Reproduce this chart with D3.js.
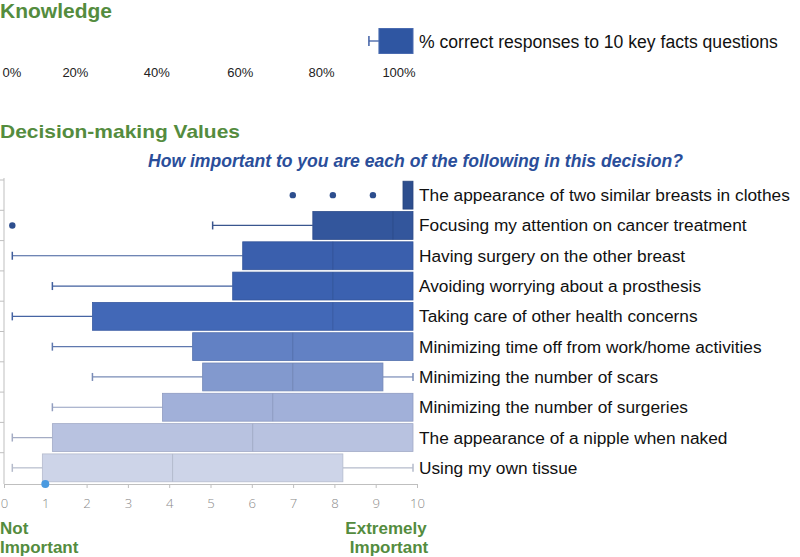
<!DOCTYPE html>
<html><head><meta charset="utf-8">
<script src="https://cdn.jsdelivr.net/npm/d3@7"></script>
<style>body{margin:0;background:#fff}svg{display:block}</style>
</head><body>
<svg id="c" width="800" height="557"></svg>
<script>
// ---- data ----
const categories = [
  "The appearance of two similar breasts in clothes",
  "Focusing my attention on cancer treatment",
  "Having surgery on the other breast",
  "Avoiding worrying about a prosthesis",
  "Taking care of other health concerns",
  "Minimizing time off from work/home activities",
  "Minimizing the number of scars",
  "Minimizing the number of surgeries",
  "The appearance of a nipple when naked",
  "Using my own tissue"
];
const whiskerLow = [9.75, 5, 0, 1, 0, 1, 2, 1, 0, 0];
const q1Values   = [9.75, 7.5, 5.75, 5.5, 2, 4.5, 4.75, 3.75, 1, 0.75];
const medians    = [10, 9.5, 8, 8, 8, 7, 7, 6.5, 6, 4];
const q3Values   = [10, 10, 10, 10, 10, 10, 9.25, 10, 10, 8.25];
const whiskerHigh= [10, 10, 10, 10, 10, 10, 10, 10, 10, 10];
const outliers   = [[7, 8, 9], [0], [], [], [], [], [], [], [], []];
const fills = ["#2D4E8E","#33569C","#3A5FAD","#3B61B0","#4268B7","#6281C4","#8299CE","#A1B0D9","#B8C2E0","#CDD4E8"];
const axisTicks = [0,1,2,3,4,5,6,7,8,9,10];
const markerValue = 1;

const knowledgeLabels = ["0%","20%","40%","60%","80%","100%"];
const knowledgeTickVals = [0,20,40,60,80,100];
const knowledgeBox = {low: 89, q1: 91.5, high: 100};
const knowledgeLegend = "% correct responses to 10 key facts questions";

// ---- drawing ----
const svg = d3.select("#c");
const green = "#548C3E";
const font = "'Liberation Sans', Arial, sans-serif";

// Knowledge section
svg.append("text").attr("x",0).attr("y",18).attr("font-family",font).attr("font-weight","bold")
  .attr("font-size",21).attr("fill",green).attr("textLength",112).attr("lengthAdjust","spacingAndGlyphs").text("Knowledge");

const kLabelScale = d3.scaleLinear().domain([0,100]).range([12,399]);
svg.append("g").selectAll("text").data(knowledgeTickVals).join("text")
  .attr("x",(d,i)=>kLabelScale(d) + (i===1?-14:i===2?-10:i===3?-4:0))
  .attr("y",77).attr("text-anchor","middle").attr("font-family",font).attr("font-size",13).attr("fill","#222")
  .text((d,i)=>knowledgeLabels[i]);

const kBoxScale = d3.scaleLinear().domain([0,100]).range([12.3,413]);
const kg = svg.append("g");
kg.append("line").attr("x1",kBoxScale(knowledgeBox.low)).attr("x2",kBoxScale(knowledgeBox.q1))
  .attr("y1",41).attr("y2",41).attr("stroke","#3F5FA5").attr("stroke-width",1.3);
kg.append("line").attr("x1",kBoxScale(knowledgeBox.low)).attr("x2",kBoxScale(knowledgeBox.low))
  .attr("y1",36).attr("y2",46).attr("stroke","#3F5FA5").attr("stroke-width",1.5);
kg.append("rect").attr("x",kBoxScale(knowledgeBox.q1)).attr("y",28.5)
  .attr("width",kBoxScale(knowledgeBox.high)-kBoxScale(knowledgeBox.q1)).attr("height",25)
  .attr("fill","#2F56A2").attr("stroke","#4A6BB0").attr("stroke-width",1);
svg.append("text").attr("x",419).attr("y",48).attr("font-family",font).attr("font-size",17.6).attr("fill","#111")
  .text(knowledgeLegend);

// Decision section titles
svg.append("text").attr("x",0).attr("y",138).attr("font-family",font).attr("font-weight","bold")
  .attr("font-size",19).attr("fill",green).attr("textLength",240).attr("lengthAdjust","spacingAndGlyphs").text("Decision-making Values");
svg.append("text").attr("x",148).attr("y",167).attr("font-family",font).attr("font-weight","bold").attr("font-style","italic")
  .attr("font-size",18.5).attr("fill","#2A4E9A").attr("textLength",535).attr("lengthAdjust","spacingAndGlyphs")
  .text("How important to you are each of the following in this decision?");

const y = d3.scaleBand().domain(categories).range([180,483]).paddingInner(0.08).paddingOuter(0.04);
const xBox = d3.scaleLinear().domain([0,10]).range([12.3,413]);
const xAxis = d3.scaleLinear().domain([0,10]).range([4,417]);

// axes
const axG = svg.append("g").attr("transform","translate(0,484)");
axG.call(d3.axisBottom(xAxis).tickValues(axisTicks).tickSize(4).tickPadding(10).tickFormat(d3.format("d")));
axG.select(".domain").attr("stroke","#BFBFBF");
axG.selectAll(".tick line").attr("stroke","#BFBFBF");
axG.selectAll(".tick text").attr("fill","#8A8A8A").attr("font-family","'Open Sans', sans-serif").attr("font-size",13.5)
  .attr("font-weight",300).attr("textLength",d=>d===10?15:7.5).attr("lengthAdjust","spacingAndGlyphs");

const yAx = d3.scaleLinear().domain([0,10]).range([180,483]);
const lg = svg.append("g");
lg.append("line").attr("x1",4).attr("x2",4).attr("y1",178).attr("y2",484).attr("stroke","#BFBFBF");
lg.selectAll("line.t").data(d3.range(0,10)).join("line").attr("class","t")
  .attr("x1",0).attr("x2",4).attr("y1",d=>yAx(d)).attr("y2",d=>yAx(d)).attr("stroke","#BFBFBF");

// boxes
const rows = svg.append("g").selectAll("g").data(categories).join("g");
rows.each(function(c,i){
  const g = d3.select(this);
  const y0 = y(c), h = y.bandwidth(), cy = y0 + h/2;
  const dark = d3.color(fills[i]).darker(0.35).formatHex();
  const wcol = d3.interpolateRgb(fills[i], "#555")(0.2);
  if (whiskerLow[i] < q1Values[i]) {
    g.append("line").attr("x1",xBox(whiskerLow[i])).attr("x2",xBox(q1Values[i])).attr("y1",cy).attr("y2",cy).attr("stroke",wcol).attr("stroke-width",1.2);
    g.append("line").attr("x1",xBox(whiskerLow[i])).attr("x2",xBox(whiskerLow[i])).attr("y1",cy-4).attr("y2",cy+4).attr("stroke",wcol).attr("stroke-width",1.5);
  }
  if (whiskerHigh[i] > q3Values[i]) {
    g.append("line").attr("x1",xBox(q3Values[i])).attr("x2",xBox(whiskerHigh[i])).attr("y1",cy).attr("y2",cy).attr("stroke",wcol).attr("stroke-width",1.2);
    g.append("line").attr("x1",xBox(whiskerHigh[i])).attr("x2",xBox(whiskerHigh[i])).attr("y1",cy-4).attr("y2",cy+4).attr("stroke",wcol).attr("stroke-width",1.5);
  }
  g.append("rect").attr("x",xBox(q1Values[i])).attr("y",y0).attr("width",xBox(q3Values[i])-xBox(q1Values[i])).attr("height",h)
    .attr("fill",fills[i]).attr("stroke",dark).attr("stroke-width",0.8);
  if (medians[i] < q3Values[i]) {
    g.append("line").attr("x1",xBox(medians[i])).attr("x2",xBox(medians[i])).attr("y1",y0).attr("y2",y0+h).attr("stroke",dark).attr("stroke-width",1);
  }
  g.selectAll("circle").data(outliers[i]).join("circle").attr("cx",d=>xBox(d)).attr("cy",cy).attr("r",3.2).attr("fill","#2D4E8E");
  g.append("text").attr("x",419).attr("y",cy+6).attr("font-family",font).attr("font-size",17.3).attr("fill","#111").text(c);
});

// marker on axis
svg.append("circle").attr("cx",xAxis(markerValue)).attr("cy",484).attr("r",4).attr("fill","#4A9AE0");

// bottom labels
const bl = svg.append("g").attr("font-family",font).attr("font-weight","bold").attr("font-size",17).attr("fill",green);
bl.append("text").attr("x",0).attr("y",534).text("Not");
bl.append("text").attr("x",0).attr("y",553).text("Important");
bl.append("text").attr("x",386).attr("y",534).attr("text-anchor","middle").text("Extremely");
bl.append("text").attr("x",389).attr("y",553).attr("text-anchor","middle").text("Important");
</script>
</body></html>
